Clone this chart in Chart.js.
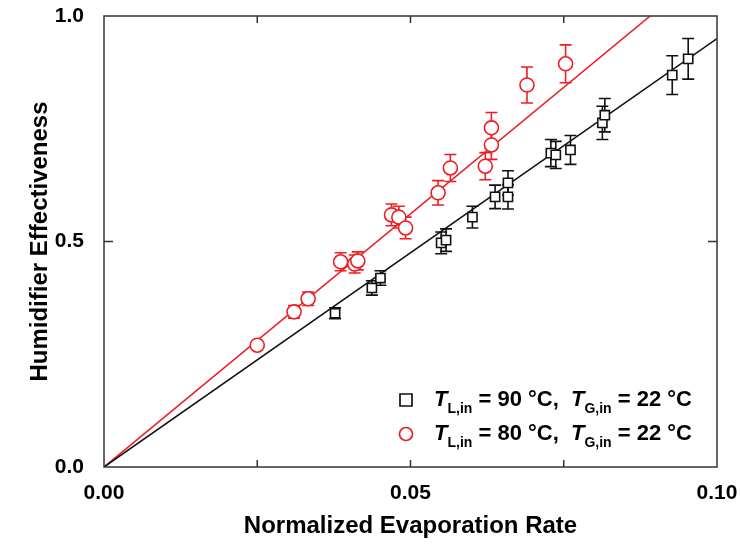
<!DOCTYPE html>
<html>
<head>
<meta charset="utf-8">
<script src="https://cdn.jsdelivr.net/npm/chart.js@4/dist/chart.umd.min.js"></script>
<style>
  html, body { margin: 0; padding: 0; background: #fff; }
</style>
</head>
<body>
<canvas id="effChart" width="741" height="551"></canvas>
<script>
// T_L,in = 90 C (black squares)
const rate90 = [0.0377, 0.0437, 0.0451, 0.0550, 0.0558, 0.0601, 0.0638, 0.0659, 0.0659, 0.0729, 0.0737, 0.0761, 0.0813, 0.0817, 0.0927, 0.0953];
const eff90  = [0.341, 0.397, 0.419, 0.497, 0.503, 0.554, 0.599, 0.599, 0.630, 0.696, 0.692, 0.703, 0.763, 0.780, 0.869, 0.905];
const err90  = [0.012, 0.016, 0.016, 0.024, 0.025, 0.024, 0.026, 0.027, 0.027, 0.030, 0.030, 0.032, 0.037, 0.037, 0.043, 0.045];

// T_L,in = 80 C (red circles)
const rate80 = [0.0250, 0.0310, 0.0333, 0.0386, 0.0409, 0.0414, 0.0469, 0.0481, 0.0492, 0.0545, 0.0565, 0.0622, 0.0632, 0.0632, 0.0690, 0.0753];
const eff80  = [0.270, 0.344, 0.373, 0.455, 0.450, 0.457, 0.559, 0.554, 0.530, 0.608, 0.663, 0.667, 0.714, 0.752, 0.847, 0.894];
const err80  = [0.008, 0.014, 0.015, 0.020, 0.020, 0.020, 0.024, 0.024, 0.024, 0.027, 0.030, 0.030, 0.032, 0.034, 0.040, 0.042];

// linear fits through the origin
const fit90X = [0, 0.1];
const fit90Y = [0, 0.95];
const fit80X = [0, 0.0891];
const fit80Y = [0, 1.0];

const xTickMarks = [0.025, 0.05, 0.075];
const yTickMarks = [0.5];

const legendRows = [
  { sub1: "L,in", text1: " = 90 \u00B0C,  ", sub2: "G,in", text2: " = 22 \u00B0C" },
  { sub1: "L,in", text1: " = 80 \u00B0C,  ", sub2: "G,in", text2: " = 22 \u00B0C" }
];

const BLACK = "#111111";
const RED = "#ee1d23";
const FONT = "'Liberation Sans', Arial, sans-serif";

const toPoints = (xs, ys) => xs.map((x, i) => ({ x: x, y: ys[i] }));

const errorBarPlugin = {
  id: "errorBars",
  beforeDatasetsDraw(chart) {
    const ctx = chart.ctx;
    const yScale = chart.scales.y;
    chart.data.datasets.forEach((ds, i) => {
      if (!ds.errorBars) return;
      const meta = chart.getDatasetMeta(i);
      ctx.save();
      ctx.strokeStyle = ds.borderColor;
      ctx.lineWidth = 1.6;
      meta.data.forEach((pt, j) => {
        const v = ds.data[j].y;
        const e = ds.errorBars[j];
        const top = yScale.getPixelForValue(v + e);
        const bot = yScale.getPixelForValue(v - e);
        ctx.beginPath();
        ctx.moveTo(pt.x, top);
        ctx.lineTo(pt.x, bot);
        ctx.moveTo(pt.x - 6, top);
        ctx.lineTo(pt.x + 6, top);
        ctx.moveTo(pt.x - 6, bot);
        ctx.lineTo(pt.x + 6, bot);
        ctx.stroke();
      });
      ctx.restore();
    });
  }
};

const framePlugin = {
  id: "frame",
  afterDraw(chart) {
    const ctx = chart.ctx;
    const a = chart.chartArea;
    const xs = chart.scales.x;
    const ys = chart.scales.y;
    ctx.save();
    ctx.strokeStyle = "#333";
    ctx.lineWidth = 1.5;
    ctx.strokeRect(a.left, a.top, a.right - a.left, a.bottom - a.top);
    ctx.beginPath();
    xTickMarks.forEach((v) => {
      const px = xs.getPixelForValue(v);
      ctx.moveTo(px, a.bottom);
      ctx.lineTo(px, a.bottom - 7);
      ctx.moveTo(px, a.top);
      ctx.lineTo(px, a.top + 7);
    });
    yTickMarks.forEach((v) => {
      const py = ys.getPixelForValue(v);
      ctx.moveTo(a.left, py);
      ctx.lineTo(a.left + 9, py);
      ctx.moveTo(a.right, py);
      ctx.lineTo(a.right - 9, py);
    });
    ctx.stroke();
    ctx.restore();
  }
};

const legendPlugin = {
  id: "customLegend",
  afterDraw(chart) {
    const ctx = chart.ctx;
    const markerX = 406;
    const rowsY = [400, 434];
    ctx.save();
    legendRows.forEach((row, i) => {
      const y = rowsY[i];
      const color = i === 0 ? BLACK : RED;
      ctx.strokeStyle = color;
      ctx.lineWidth = 1.7;
      ctx.beginPath();
      if (i === 0) {
        ctx.rect(markerX - 6, y - 6, 12, 12);
      } else {
        ctx.arc(markerX, y, 6.5, 0, Math.PI * 2);
      }
      ctx.stroke();

      ctx.fillStyle = "#000";
      ctx.textBaseline = "middle";
      let x = 434;
      const big = "bold 22px " + FONT;
      const ital = "italic bold 22px " + FONT;
      const small = "bold 14px " + FONT;
      const parts = [
        [ital, "T", 0],
        [small, row.sub1, 9],
        [big, row.text1, 0],
        [ital, "T", 0],
        [small, row.sub2, 9],
        [big, row.text2, 0]
      ];
      parts.forEach(([f, t, dy]) => {
        ctx.font = f;
        ctx.fillText(t, x, y + dy);
        x += ctx.measureText(t).width;
      });
    });
    ctx.restore();
  }
};

const ctx = document.getElementById("effChart");

new Chart(ctx, {
  type: "scatter",
  data: {
    datasets: [
      {
        label: "T_L,in = 90 C",
        data: toPoints(rate90, eff90),
        errorBars: err90,
        pointStyle: "rect",
        pointRadius: 6.5,
        borderColor: BLACK,
        backgroundColor: "#fff",
        borderWidth: 1.6
      },
      {
        label: "T_L,in = 80 C",
        data: toPoints(rate80, eff80),
        errorBars: err80,
        pointStyle: "circle",
        pointRadius: 7,
        borderColor: RED,
        backgroundColor: "#fff",
        borderWidth: 1.6
      },
      {
        label: "fit 90",
        data: toPoints(fit90X, fit90Y),
        showLine: true,
        pointRadius: 0,
        borderColor: BLACK,
        borderWidth: 1.6
      },
      {
        label: "fit 80",
        data: toPoints(fit80X, fit80Y),
        showLine: true,
        pointRadius: 0,
        borderColor: RED,
        borderWidth: 1.6
      }
    ]
  },
  options: {
    responsive: false,
    animation: false,
    layout: { padding: { top: 16, right: 24, left: 0, bottom: 0 } },
    plugins: {
      legend: { display: false },
      tooltip: { enabled: false }
    },
    scales: {
      x: {
        type: "linear",
        min: 0,
        max: 0.1,
        grid: { display: false },
        border: { display: false },
        ticks: {
          stepSize: 0.05,
          padding: 6,
          color: "#000",
          font: { family: FONT, size: 21, weight: "bold" },
          callback: (v) => v.toFixed(2)
        },
        title: {
          display: true,
          text: "Normalized Evaporation Rate",
          color: "#000",
          font: { family: FONT, size: 24, weight: "bold" },
          padding: { top: 0, bottom: 10 }
        },
        afterFit: (scale) => {
          scale.height = 84;
          scale.paddingLeft = 0;
          scale.paddingRight = 0;
        }
      },
      y: {
        type: "linear",
        min: 0,
        max: 1,
        grid: { display: false },
        border: { display: false },
        ticks: {
          stepSize: 0.5,
          padding: 12,
          color: "#000",
          font: { family: FONT, size: 21, weight: "bold" },
          callback: (v) => v.toFixed(1)
        },
        title: {
          display: true,
          text: "Humidifier Effectiveness",
          color: "#000",
          font: { family: FONT, size: 24, weight: "bold" },
          padding: { top: 26, bottom: 0 }
        },
        afterFit: (scale) => {
          scale.width = 104;
          scale.paddingTop = 0;
          scale.paddingBottom = 0;
        }
      }
    }
  },
  plugins: [errorBarPlugin, framePlugin, legendPlugin]
});
</script>
</body>
</html>
